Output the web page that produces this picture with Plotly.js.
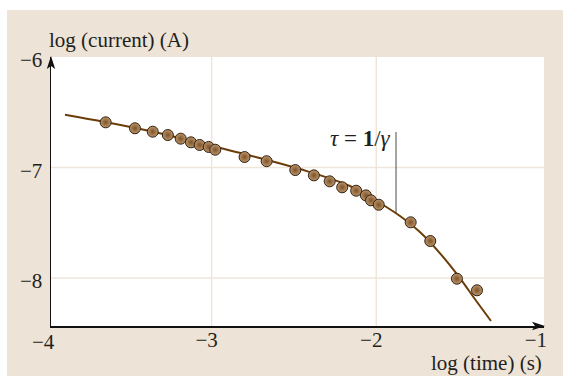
<!DOCTYPE html>
<html>
<head>
<meta charset="utf-8">
<script src="https://cdn.plot.ly/plotly-3.0.1.min.js"></script>
<style>
  html, body { margin: 0; padding: 0; background: #ffffff; width: 563px; height: 376px; overflow: hidden; }
  #chart { position: absolute; left: 7px; top: 10px; width: 556px; height: 366px; }
</style>
</head>
<body>
<div id="chart"></div>
<script>
// measured points: log(time) and log(current)
const pointLogTime = [-3.644, -3.466, -3.358, -3.266, -3.188, -3.126, -3.073, -3.018, -2.978,
  -2.800, -2.666, -2.492, -2.379, -2.283, -2.207, -2.122, -2.063, -2.032, -1.985,
  -1.791, -1.672, -1.510, -1.388];
const pointLogCurrent = [-6.591, -6.645, -6.676, -6.706, -6.739, -6.772, -6.796, -6.814, -6.839,
  -6.905, -6.943, -7.023, -7.071, -7.125, -7.179, -7.210, -7.252, -7.297, -7.337,
  -7.496, -7.665, -8.006, -8.111];

// fitted curve
const curveLogTime = [-3.891, -3.648, -3.375, -3.071, -2.767, -2.464, -2.160, -1.978, -1.856, -1.735, -1.614, -1.492, -1.401, -1.303];
const curveLogCurrent = [-6.522, -6.588, -6.670, -6.778, -6.891, -7.014, -7.167, -7.321, -7.439, -7.584, -7.774, -8.000, -8.190, -8.389];

// tau marker
const tauLogTime = -1.88;
const tauLogCurrent = [-6.679, -7.412];
const tauLabelY = -6.733;
const tauLabel = '<i>τ</i> = <b>1</b>/<i>γ</i>';

// axes
const xTicks = [-4, -3, -2, -1];
const xTickText = ['−4', '−3', '−2', '−1'];
const yTicks = [-6, -7, -8];
const yTickText = ['−6', '−7', '−8'];
const xGrid = [-3, -2];
const yGrid = [-7, -8];
const xRange = [-3.976, -0.981];
const yRange = [-8.434, -6.0];
const xTitle = 'log (time) (s)';
const yTitle = 'log (current) (A)';

const FONT = 'Liberation Serif, Times New Roman, serif';
const TXT = '#231f20';
const GRID = '#efe6da';

const traces = [
  {
    x: curveLogTime, y: curveLogCurrent, type: 'scatter', mode: 'lines',
    line: { color: '#6b3c08', width: 2, shape: 'spline', smoothing: 1 },
    hoverinfo: 'skip'
  },
  {
    x: pointLogTime, y: pointLogCurrent, type: 'scatter', mode: 'markers',
    marker: {
      size: 11, color: '#bf9668',
      gradient: { type: 'radial', color: '#7a522c' },
      line: { color: '#2e2014', width: 1 }
    }
  }
];

const shapes = [];
xGrid.forEach(v => shapes.push({ type: 'line', xref: 'x', yref: 'paper', x0: v, x1: v, y0: 0, y1: 1, layer: 'below', line: { color: GRID, width: 1.5 } }));
yGrid.forEach(v => shapes.push({ type: 'line', xref: 'paper', yref: 'y', x0: 0, x1: 1, y0: v, y1: v, layer: 'below', line: { color: GRID, width: 1.5 } }));
shapes.push({ type: 'line', xref: 'x', yref: 'y', x0: tauLogTime, x1: tauLogTime, y0: tauLogCurrent[0], y1: tauLogCurrent[1], line: { color: '#4a4a4a', width: 1 } });
// axis arrow heads
shapes.push({ type: 'path', xref: 'paper', yref: 'paper', xsizemode: 'pixel', ysizemode: 'pixel', xanchor: 1, yanchor: 0,
  path: 'M1,0 L-12,4.2 L-9,0 L-12,-4.2 Z', fillcolor: '#111111', line: { width: 0 } });
shapes.push({ type: 'path', xref: 'paper', yref: 'paper', xsizemode: 'pixel', ysizemode: 'pixel', xanchor: 0, yanchor: 1,
  path: 'M0,1 L-4.2,-12 L0,-9 L4.2,-12 Z', fillcolor: '#111111', line: { width: 0 } });

// the −4 label sits just left of the visible x range, so it is placed as an annotation
const firstTickPaperX = (xTicks[0] - xRange[0]) / (xRange[1] - xRange[0]);

const annotations = [
  { text: tauLabel, xref: 'x', yref: 'y', x: tauLogTime, y: tauLabelY, xanchor: 'right', yanchor: 'middle', xshift: -3,
    showarrow: false, font: { family: FONT, size: 23, color: TXT } },
  { text: yTitle, xref: 'paper', yref: 'paper', x: 0, y: 1, xanchor: 'left', yanchor: 'middle', xshift: -4, yshift: 17,
    showarrow: false, font: { family: FONT, size: 21, color: TXT } },
  { text: xTitle, xref: 'paper', yref: 'paper', x: 1, y: 0, xanchor: 'right', yanchor: 'middle', xshift: 0, yshift: -37,
    showarrow: false, font: { family: FONT, size: 21, color: TXT } },
  { text: xTickText[0], xref: 'paper', yref: 'paper', x: firstTickPaperX, y: 0, xanchor: 'center', yanchor: 'middle', xshift: -4, yshift: -16,
    showarrow: false, font: { family: FONT, size: 21, color: TXT } }
];

const layout = {
  width: 556, height: 366,
  margin: { l: 44, r: 19, t: 47, b: 50, pad: 0 },
  paper_bgcolor: '#ede3d7',
  plot_bgcolor: '#ffffff',
  showlegend: false,
  font: { family: FONT, size: 21, color: TXT },
  xaxis: {
    range: xRange, tickvals: xTicks, ticktext: xTickText, showgrid: false, zeroline: false,
    showline: true, linecolor: '#111111', linewidth: 1.5, ticks: '', ticklabelshift: -5, ticklabelstandoff: -6,
    tickfont: { family: FONT, size: 21, color: TXT }, fixedrange: true
  },
  yaxis: {
    range: yRange, tickvals: yTicks, ticktext: yTickText, showgrid: false, zeroline: false,
    showline: true, linecolor: '#111111', linewidth: 1.5, ticks: '', ticklabelshift: 3, ticklabelstandoff: 3,
    tickfont: { family: FONT, size: 21, color: TXT }, fixedrange: true
  },
  shapes: shapes,
  annotations: annotations
};

Plotly.newPlot('chart', traces, layout, { displayModeBar: false, staticPlot: true });
</script>
</body>
</html>
